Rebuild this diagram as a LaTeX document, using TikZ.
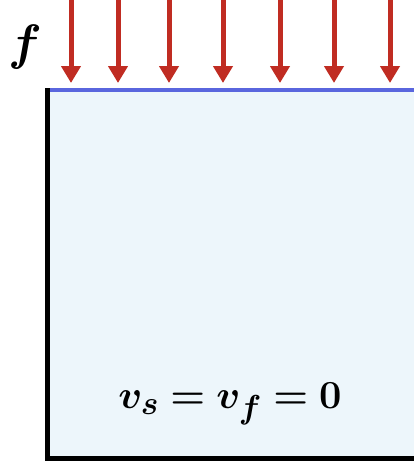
\documentclass[tikz,border=0pt]{standalone}
\usepackage{bm}
\usetikzlibrary{arrows.meta}

\definecolor{loadred}{RGB}{192,44,34}
\definecolor{topblue}{RGB}{90,102,222}
\definecolor{soilfill}{RGB}{237,246,251}

\begin{document}
\begin{tikzpicture}[
  loadarrow/.style = {-{Triangle[width=19pt,length=17pt]}, line width=5pt, draw=loadred},
  wallline/.style  = {line width=5pt, draw=black, line join=miter},
  topline/.style   = {line width=4pt, draw=topblue},
  bigtext/.style   = {inner sep=0pt, font=\Huge, scale=1.6},
  x=1pt, y=-1pt,
]

  \useasboundingbox (0,0) rectangle (414,463);
  \fill[soilfill] (47,90) rectangle (414,458);

  \coordinate (c1) at (47,88);
  \coordinate (c2) at (47,458);
  \coordinate (c3) at (414,458);
  \coordinate (t1) at (49,90);
  \coordinate (t2) at (414,90);

  \coordinate (a1s) at (71,0);   \coordinate (a1e) at (71,83);
  \coordinate (a2s) at (118,0);  \coordinate (a2e) at (118,83);
  \coordinate (a3s) at (169,0);  \coordinate (a3e) at (169,83);
  \coordinate (a4s) at (223,0);  \coordinate (a4e) at (223,83);
  \coordinate (a5s) at (280,0);  \coordinate (a5e) at (280,83);
  \coordinate (a6s) at (334,0);  \coordinate (a6e) at (334,83);
  \coordinate (a7s) at (390,0);  \coordinate (a7e) at (390,83);

  \node[bigtext, scale=1.25] (fload) at (25,47) {$\bm{f}$};
  \node[bigtext] (vzero) at (230,404) {$\bm{v_s = v_f = 0}$};

  \draw[topline] (t1) -- (t2);
  \draw[wallline] (c1) -- (c2) -- (c3);
  \draw[loadarrow] (a1s) -- (a1e);
  \draw[loadarrow] (a2s) -- (a2e);
  \draw[loadarrow] (a3s) -- (a3e);
  \draw[loadarrow] (a4s) -- (a4e);
  \draw[loadarrow] (a5s) -- (a5e);
  \draw[loadarrow] (a6s) -- (a6e);
  \draw[loadarrow] (a7s) -- (a7e);
\end{tikzpicture}
\end{document}
